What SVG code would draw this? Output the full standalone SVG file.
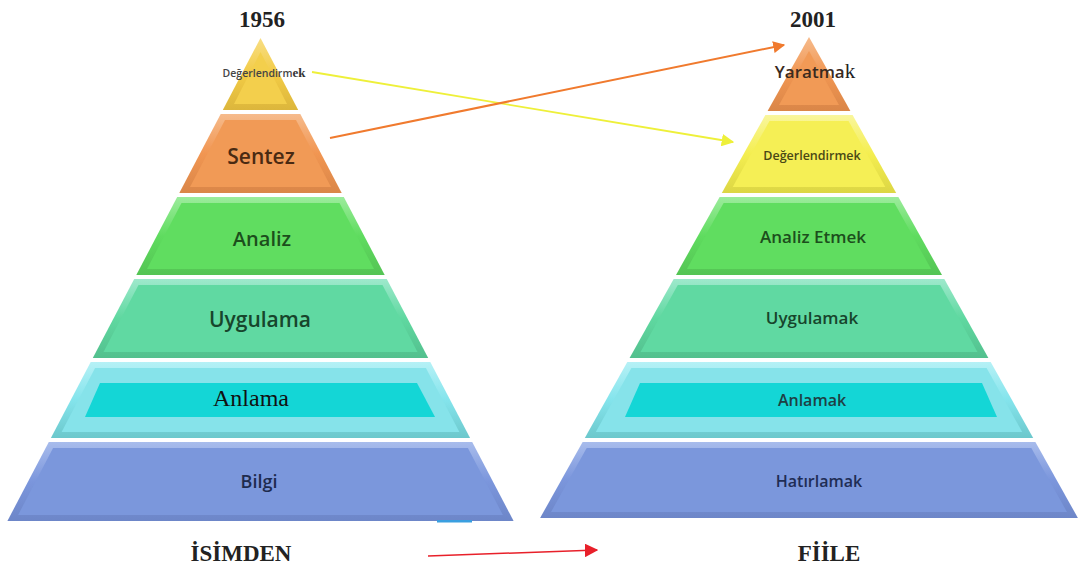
<svg xmlns="http://www.w3.org/2000/svg" width="1079" height="569" viewBox="0 0 1079 569">
  <defs>
    <!-- bevel rims: light top edge, darker bottom edge -->
    <linearGradient id="gGold" x1="0" y1="0" x2="0" y2="1"><stop offset="0" stop-color="#f8de84"/><stop offset="0.5" stop-color="#f2cb45"/><stop offset="1" stop-color="#dcb63c"/></linearGradient>
    <linearGradient id="gYel" x1="0" y1="0" x2="0" y2="1"><stop offset="0" stop-color="#f9f69c"/><stop offset="0.5" stop-color="#f4ee50"/><stop offset="1" stop-color="#dcd644"/></linearGradient>
    <linearGradient id="gOr" x1="0" y1="0" x2="0" y2="1"><stop offset="0" stop-color="#f6bb8c"/><stop offset="0.5" stop-color="#f19652"/><stop offset="1" stop-color="#da8648"/></linearGradient>
    <linearGradient id="gGr" x1="0" y1="0" x2="0" y2="1"><stop offset="0" stop-color="#9cec9c"/><stop offset="0.5" stop-color="#5fdc5f"/><stop offset="1" stop-color="#54c454"/></linearGradient>
    <linearGradient id="gMt" x1="0" y1="0" x2="0" y2="1"><stop offset="0" stop-color="#9ee9cc"/><stop offset="0.5" stop-color="#5fd8a0"/><stop offset="1" stop-color="#53c08e"/></linearGradient>
    <linearGradient id="gCy" x1="0" y1="0" x2="0" y2="1"><stop offset="0" stop-color="#b6f1f6"/><stop offset="0.5" stop-color="#84e4ec"/><stop offset="1" stop-color="#6cc8cc"/></linearGradient>
    <linearGradient id="gBl" x1="0" y1="0" x2="0" y2="1"><stop offset="0" stop-color="#a8bcec"/><stop offset="0.5" stop-color="#7b96dc"/><stop offset="1" stop-color="#6d86c8"/></linearGradient>
    <marker id="ahOr" viewBox="0 0 10 10" refX="9" refY="5" markerWidth="6" markerHeight="6" orient="auto" markerUnits="strokeWidth"><path d="M0,0 L10,5 L0,10 Z" fill="#f07a2e"/></marker>
    <marker id="ahYe" viewBox="0 0 10 10" refX="9" refY="5" markerWidth="7" markerHeight="7" orient="auto" markerUnits="strokeWidth"><path d="M0,0 L10,5 L0,10 Z" fill="#eef03a"/></marker>
    <marker id="ahRd" viewBox="0 0 10 10" refX="9" refY="5" markerWidth="9" markerHeight="9" orient="auto" markerUnits="strokeWidth"><path d="M0,0 L10,5 L0,10 Z" fill="#e8202a"/></marker>
  </defs>
  <style>
    .gold{fill:#f3cf4c}.yel{fill:#f5ef55}.or{fill:#f19a56}.gr{fill:#60dd60}.mt{fill:#60d9a2}.cy{fill:#86e3ea}.cyh{fill:#14d6d6}.bl{fill:#7b97dc}
    .lab{font-family:"Open Sans","Liberation Sans",sans-serif;font-weight:600;text-anchor:middle}
    .ser{font-family:"Liberation Serif","Times New Roman",serif}
    .head{font-family:"Liberation Serif","Times New Roman",serif;font-weight:bold;font-size:23px;fill:#222;text-anchor:middle}
  </style>
  <rect width="1079" height="569" fill="#ffffff"/>

  <!-- 1956 pyramid -->
  <text class="head" x="262" y="27">1956</text>
  <g id="l-degerlendirme">
    <path d="M260.5,38 L298.2,110 L222.8,110 Z" fill="url(#gGold)"/>
    <path class="gold" d="M260.5,52 L287,104 L234,104 Z"/>
    <text class="lab" x="264" y="77" font-size="10.5" fill="#444" font-weight="400">Değerlendirm<tspan class="ser" font-size="13" fill="#333">ek</tspan></text>
  </g>
  <g id="l-sentez">
    <path d="M220.7,114 L300.3,114 L341.7,193 L179.3,193 Z" fill="url(#gOr)"/>
    <path class="or" d="M225,120 L296,120 L331,187 L190,187 Z"/>
    <text class="lab" x="261" y="164" font-size="21" fill="#4a2a12">Sentez</text>
  </g>
  <g id="l-analiz">
    <path d="M177.2,197 L343.8,197 L384.7,275 L136.3,275 Z" fill="url(#gGr)"/>
    <path class="gr" d="M181.5,203 L339.5,203 L374,269 L147,269 Z"/>
    <text class="lab" x="262" y="246" font-size="20" fill="#1c4e1c">Analiz</text>
  </g>
  <g id="l-uygulama">
    <path d="M134.2,279 L386.8,279 L428.2,358 L92.8,358 Z" fill="url(#gMt)"/>
    <path class="mt" d="M138.5,285 L382.5,285 L417.5,352 L103.5,352 Z"/>
    <text class="lab" x="260" y="327" font-size="21" fill="#17452c">Uygulama</text>
  </g>
  <g id="l-anlama">
    <path d="M90.7,362 L430.3,362 L470.1,438 L50.9,438 Z" fill="url(#gCy)"/>
    <path class="cy" d="M95.1,368 L425.9,368 L459.4,432 L61.6,432 Z"/>
    <path class="cyh" d="M100,383 L417,383 L435,417 L85,417 Z"/>
    <text class="ser" x="251" y="406" font-size="24" fill="#111" text-anchor="middle">Anlama</text>
  </g>
  <g id="l-bilgi">
    <path d="M48.8,442 L472.2,442 L513.6,521 L7.4,521 Z" fill="url(#gBl)"/>
    <path class="bl" d="M53.1,448 L467.9,448 L502.9,515 L18.1,515 Z"/>
    <rect x="437" y="520" width="35" height="2.5" fill="#3a9fe0"/>
    <text class="lab" x="259" y="488" font-size="18" fill="#1e2b4e">Bilgi</text>
  </g>

  <!-- 2001 pyramid -->
  <text class="head" x="813" y="27">2001</text>
  <g id="r-yaratmak">
    <path d="M809,37 L850.4,111 L767.6,111 Z" fill="url(#gOr)"/>
    <path class="or" d="M809,51 L839,105 L779,105 Z"/>
    <text class="lab" x="815" y="78" font-size="17" fill="#3b2a1e">Yaratma<tspan class="ser" font-size="21" font-weight="400" fill="#222">k</tspan></text>
  </g>
  <g id="r-degerlendirmek">
    <path d="M765.4,115 L852.6,115 L896.2,193 L721.8,193 Z" fill="url(#gYel)"/>
    <path class="yel" d="M769.5,121 L848.5,121 L885.3,187 L732.7,187 Z"/>
    <text class="lab" x="812" y="160" font-size="12.5" font-weight="700" fill="#4a4816">Değerlendirmek</text>
  </g>
  <g id="r-analiz-etmek">
    <path d="M719.6,197 L898.4,197 L942,275 L676,275 Z" fill="url(#gGr)"/>
    <path class="gr" d="M723.6,203 L894.4,203 L931.1,269 L686.9,269 Z"/>
    <text class="lab" x="813" y="243" font-size="17" fill="#1c4e1c">Analiz Etmek</text>
  </g>
  <g id="r-uygulamak">
    <path d="M673.7,279 L944.3,279 L988.4,358 L629.6,358 Z" fill="url(#gMt)"/>
    <path class="mt" d="M677.8,285 L940.2,285 L977.5,352 L640.5,352 Z"/>
    <text class="lab" x="812" y="324" font-size="17" fill="#17452c">Uygulamak</text>
  </g>
  <g id="r-anlamak">
    <path d="M627.3,362 L990.7,362 L1033.2,438 L584.8,438 Z" fill="url(#gCy)"/>
    <path class="cy" d="M631.4,368 L986.6,368 L1022.2,432 L595.8,432 Z"/>
    <path class="cyh" d="M640,383 L982,383 L997,417 L625,417 Z"/>
    <text class="lab" x="812" y="406" font-size="16" fill="#1f4044">Anlamak</text>
  </g>
  <g id="r-hatirlamak">
    <path d="M582.6,442 L1035.4,442 L1077.9,518 L540.1,518 Z" fill="url(#gBl)"/>
    <path class="bl" d="M586.7,448 L1031.3,448 L1067,512 L551,512 Z"/>
    <text class="lab" x="819" y="487" font-size="16" fill="#1f2d55">Hatırlamak</text>
  </g>

  <!-- bottom captions -->
  <text class="head" x="241" y="561" font-size="21">İSİMDEN</text>
  <text class="head" x="829" y="561" font-size="21">FİİLE</text>

  <!-- connectors -->
  <g id="connectors" fill="none">
    <line x1="312" y1="72" x2="733" y2="142" stroke="#eef03a" stroke-width="1.8" marker-end="url(#ahYe)"/>
    <line x1="330" y1="138" x2="784" y2="45" stroke="#f07a2e" stroke-width="2" marker-end="url(#ahOr)"/>
    <line x1="428" y1="556" x2="597" y2="550" stroke="#e8202a" stroke-width="1.5" marker-end="url(#ahRd)"/>
  </g>
</svg>
